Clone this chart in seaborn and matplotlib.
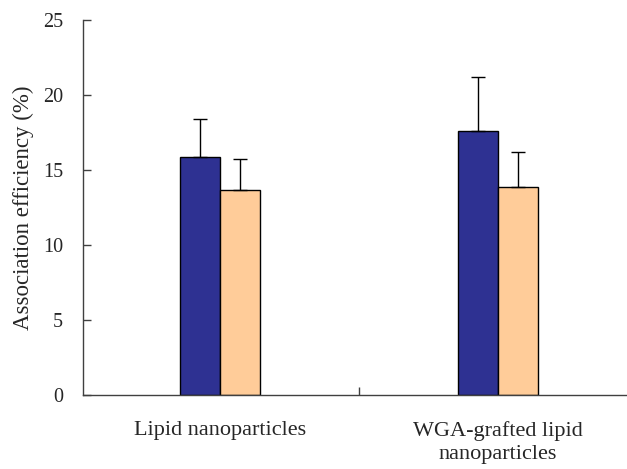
import matplotlib
matplotlib.use("Agg")
import matplotlib.pyplot as plt
import seaborn as sns
import pandas as pd
from matplotlib.ticker import FixedLocator

# Data
categories = ["Lipid nanoparticles", "WGA-grafted lipid\nnanoparticles"]
series = ["A", "B"]
means_a = [15.9, 17.6]
means_b = [13.7, 13.9]
err_a = [2.5, 3.6]
err_b = [2.05, 2.3]
y_ticks = [0, 5, 10, 15, 20, 25]

colors = ["#2E3192", "#FFCC99"]

df = pd.DataFrame({
    "category": categories * 2,
    "series": [series[0]] * 2 + [series[1]] * 2,
    "value": means_a + means_b,
    "err": err_a + err_b,
})

sns.set_style("white")
plt.rcParams["font.family"] = ["Liberation Serif", "DejaVu Serif"]

fig = plt.figure(figsize=(6.27, 4.69), dpi=100)
ax = fig.add_axes([83 / 627, 1 - 395 / 469, 1 - 83 / 627, (395 - 20) / 469])

sns.barplot(data=df, x="category", y="value", hue="series", order=categories,
            hue_order=series, palette=colors, saturation=1, width=0.29, gap=0,
            edgecolor="black", linewidth=1.0, errorbar=None, legend=False, ax=ax)

# upper-only error bars on each bar
for cont, errs in zip(ax.containers, [err_a, err_b]):
    for patch, e in zip(cont.patches, errs):
        xc = patch.get_x() + patch.get_width() / 2
        h = patch.get_height()
        ax.errorbar(xc, h, yerr=[[0], [e]], fmt="none", ecolor="black",
                    elinewidth=1.0, capsize=5, capthick=1.0, zorder=3)

ax.set_ylim(0, 25)
ax.set_xlim(-0.493, 1.464)
ax.set_yticks(y_ticks)
ax.set_yticklabels([str(t) for t in y_ticks])
ax.set_ylabel("Association efficiency (%)", fontsize=16.5, labelpad=6)
ax.set_xlabel("")

ax.tick_params(axis="y", direction="in", length=6, width=1, color="#404040",
               labelsize=14.5, pad=14.5, left=True)
ax.tick_params(axis="x", which="major", length=0, labelsize=16, pad=19)
for lbl in ax.get_xticklabels():
    lbl.set_linespacing(1.3)
ax.xaxis.set_minor_locator(FixedLocator([0.5]))
ax.tick_params(axis="x", which="minor", direction="in", length=6, width=1,
               color="#404040", bottom=True)

for side in ["top", "right"]:
    ax.spines[side].set_visible(False)
for side in ["left", "bottom"]:
    ax.spines[side].set_color("#404040")
    ax.spines[side].set_linewidth(1.0)

fig.savefig("out.png", dpi=100)
